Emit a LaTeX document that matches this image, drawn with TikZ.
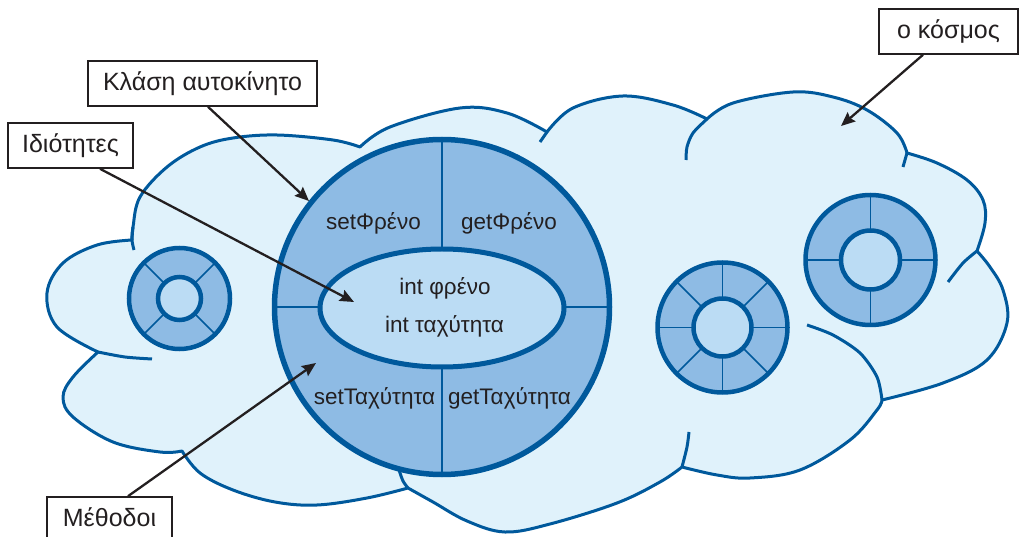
\documentclass[tikz,border=0pt]{standalone}
\usepackage{fontspec}
\setmainfont{Liberation Sans}
\usetikzlibrary{arrows.meta}
\definecolor{cloudc}{RGB}{224,242,251}
\definecolor{edgec}{RGB}{0,89,156}
\definecolor{ringc}{RGB}{142,187,228}
\definecolor{corec}{RGB}{187,220,244}
\definecolor{inkc}{RGB}{35,31,32}
\newcommand\drawwheel[4]{%
  \fill[ringc] #1 circle[radius=#2pt];
  \foreach \a in {#4}{\draw[spoke] #1 -- ++(\a:#2pt);}
  \filldraw[fill=corec,draw=edgec,line width=4.5pt] #1 circle[radius=#3pt];
  \draw[draw=edgec,line width=4.5pt] #1 circle[radius=#2pt];
}
\begin{document}
\begin{tikzpicture}[x=1pt,y=-1pt,
  cloudline/.style={draw=edgec,line width=3pt},
  spoke/.style={draw=edgec,line width=1.5pt},
  labelbox/.style={draw=inkc,line width=1.6pt,fill=white,text=inkc,inner sep=0pt,
    minimum height=45pt,text height=18.5pt,text depth=4.5pt,
    font=\fontsize{25pt}{30pt}\selectfont},
  intext/.style={text=inkc,inner sep=0pt,anchor=base,font=\fontsize{22.5pt}{27pt}\selectfont},
  arr/.style={draw=inkc,line width=2.3pt,-{Stealth[length=14pt,width=12pt,inset=2pt]}}]
\useasboundingbox (0,0) rectangle (1021,537);
\clip (0,0) rectangle (1021,537);
% cloud
\filldraw[fill=cloudc,cloudline,line join=round]
  plot[smooth,tension=0.6] coordinates {(132,240) (97,245) (63,263) (47,293) (57,327) (98,352)}
  -- plot[smooth,tension=0.6] coordinates {(98,352) (73,377) (63,397) (73,417) (113,442) (160,452) (182,451)}
  -- plot[smooth,tension=0.6] coordinates {(182,451) (200,473) (233,490) (275,502) (317,505) (367,498) (408,488)}
  -- plot[smooth,tension=0.6] coordinates {(408,488) (433,502) (467,521) (505,532) (550,524) (617,503) (660,482) (682,467)}
  -- plot[smooth,tension=0.6] coordinates {(682,467) (717,475) (750,478) (800,470) (850,440) (877,410) (882,400)}
  -- plot[smooth,tension=0.6] coordinates {(882,400) (943,383) (987,360) (1007,323) (1003,290) (990,267) (977,251)}
  -- plot[smooth,tension=0.6] coordinates {(977,251) (985,223) (983,200) (967,180) (937,163) (907,153)}
  -- plot[smooth,tension=0.6] coordinates {(907,153) (897,133) (867,110) (833,97) (793,92) (733,103) (707,119)}
  -- plot[smooth,tension=0.6] coordinates {(707,119) (673,105) (623,96) (573,108) (547,132)}
  -- plot[smooth,tension=0.6] coordinates {(547,132) (507,113) (460,108) (390,127) (360,147)}
  -- plot[smooth,tension=0.6] coordinates {(360,147) (333,140) (277,135) (233,138) (200,147) (167,167) (140,197) (133,227) (132,240)}
  -- cycle;
% hooks
\draw[cloudline] plot[smooth] coordinates {(133,227) (132,240) (134,250)};
\draw[cloudline] plot[smooth] coordinates {(98,352) (125,357) (152,359)};
\draw[cloudline] plot[smooth] coordinates {(399,470) (403,481) (408,488)};
\draw[cloudline] plot[smooth] coordinates {(682,467) (687,447) (689,432)};
\draw[cloudline] plot[smooth] coordinates {(882,400) (877,377) (860,353) (833,335) (807,325)};
\draw[cloudline] plot[smooth] coordinates {(977,251) (963,263) (948,282)};
\draw[cloudline] plot[smooth] coordinates {(907,153) (903,167)};
\draw[cloudline] plot[smooth] coordinates {(707,119) (693,133) (687,147) (686,160)};
\draw[cloudline] plot[smooth] coordinates {(547,132) (540,142)};
% small wheels
\drawwheel{(179.5,298.5)}{50.5}{21.5}{45,135,225,315}
\drawwheel{(722.5,327.5)}{65}{29}{0,45,...,315}
\drawwheel{(870.5,260)}{65}{29.5}{0,90,180,270}
% big class circle
\fill[ringc] (442,307) circle[radius=167.5pt];
\draw[spoke] (442,139.5) -- (442,474.5);
\draw[spoke] (274.5,307) -- (609.5,307);
\filldraw[fill=corec,draw=edgec,line width=5pt] (442,308) ellipse[x radius=122pt,y radius=59pt];
\draw[draw=edgec,line width=5.5pt] (442,307) circle[radius=167.5pt];
% texts
\node[intext] (sf) at (373.5,230) {setΦρένο};
\node[intext] (gf) at (509,230) {getΦρένο};
\node[intext] (if) at (445,295) {int φρένο};
\node[intext] (it) at (444.5,333) {int ταχύτητα};
\node[intext] (st) at (374.5,405) {setΤαχύτητα};
\node[intext] (gt) at (509.5,405) {getΤαχύτητα};
% labels
\node[labelbox,minimum width=229pt] (kl) at (202.5,83.5) {Κλάση αυτοκίνητο};
\node[labelbox,minimum width=125pt] (id) at (70.5,145.5) {Ιδιότητες};
\node[labelbox,minimum width=139pt] (ko) at (948.5,31.5) {ο κόσμος};
\node[labelbox,minimum width=125pt] (me) at (109.5,519.5) {Μέθοδοι};
% arrows
\coordinate (tk) at (309,201);
\coordinate (ti) at (354,302);
\coordinate (tm) at (316,363);
\coordinate (tw) at (841,126);
\draw[arr] ([xshift=5.5pt]kl.south) -- (tk);
\draw[arr] ([xshift=29.5pt]id.south) -- (ti);
\draw[arr] ([xshift=18.5pt]me.north) -- (tm);
\draw[arr] ([xshift=-25.5pt]ko.south) -- (tw);
\end{tikzpicture}
\end{document}
